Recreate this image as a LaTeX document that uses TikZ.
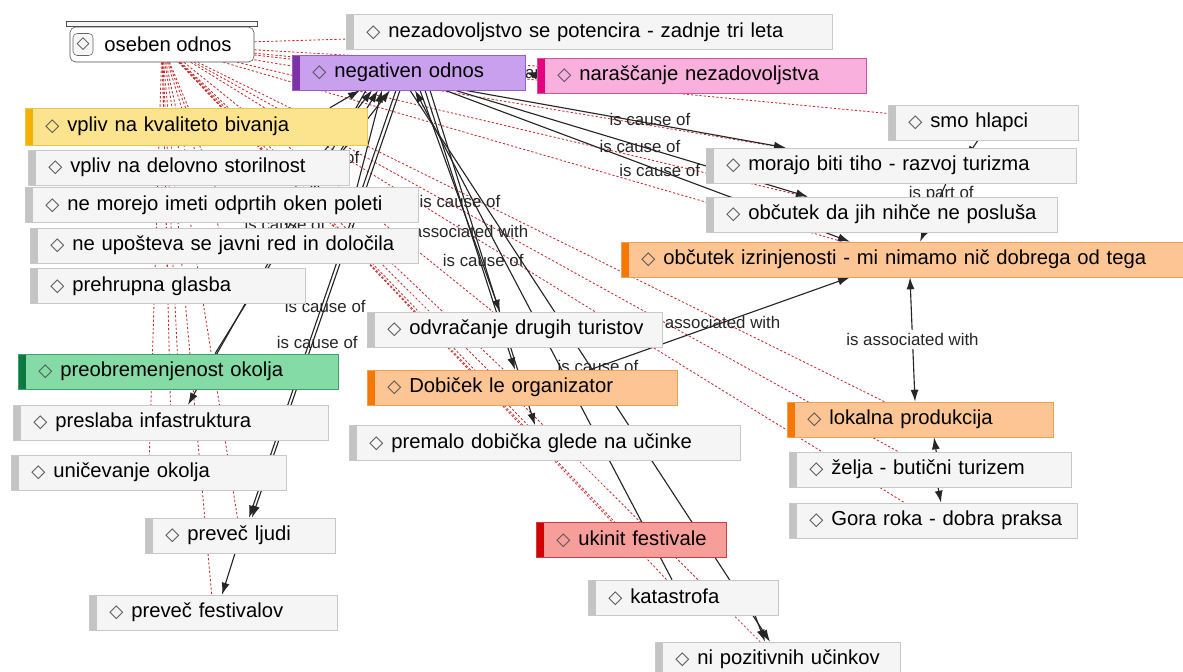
\documentclass[tikz,border=0pt]{standalone}
\usepackage{fontspec}
\setmainfont{Liberation Sans}
\newfontfamily\diamfont{DejaVu Sans}
\usepackage{tikz}
\usetikzlibrary{arrows.meta, calc, backgrounds}
\definecolor{cBoxGray}{RGB}{245,245,245}
\definecolor{cBoxLine}{RGB}{200,200,200}
\definecolor{cBarGray}{RGB}{196,196,196}
\definecolor{cPurpleFill}{RGB}{200,160,238}
\definecolor{cPurpleLine}{RGB}{150,95,200}
\definecolor{cPurpleBar}{RGB}{125,50,165}
\definecolor{cPinkFill}{RGB}{249,176,220}
\definecolor{cPinkLine}{RGB}{205,85,160}
\definecolor{cPinkBar}{RGB}{228,0,126}
\definecolor{cYellowFill}{RGB}{252,228,142}
\definecolor{cYellowLine}{RGB}{230,200,80}
\definecolor{cYellowBar}{RGB}{243,178,0}
\definecolor{cOrangeFill}{RGB}{253,196,148}
\definecolor{cOrangeLine}{RGB}{232,160,96}
\definecolor{cOrangeBar}{RGB}{245,121,0}
\definecolor{cGreenFill}{RGB}{133,219,166}
\definecolor{cGreenLine}{RGB}{64,160,112}
\definecolor{cGreenBar}{RGB}{11,122,64}
\definecolor{cRedFill}{RGB}{247,158,154}
\definecolor{cRedLine}{RGB}{200,64,64}
\definecolor{cRedBar}{RGB}{210,0,0}
\definecolor{cLink}{RGB}{200,45,45}
\definecolor{cDiamond}{RGB}{80,80,80}
\newcommand{\codetxt}[1]{\mbox{{\diamfont\fontsize{13}{13}\selectfont\color{cDiamond}◇}\hspace{0.2cm}#1}}
\tikzset{
	code/.style n args={3}{rectangle, anchor=west, minimum height=0.875cm, inner xsep=0.5cm, inner ysep=0pt, align=left, fill=#1, draw=#2, font=\fontsize{14.4}{17}\selectfont, path picture={\fill[#3] (path picture bounding box.south west) rectangle ([xshift=0.19cm]path picture bounding box.north west);}},
	graycode/.style   ={code={cBoxGray}{cBoxLine}{cBarGray}},
	purplecode/.style ={code={cPurpleFill}{cPurpleLine}{cPurpleBar}},
	pinkcode/.style   ={code={cPinkFill}{cPinkLine}{cPinkBar}},
	yellowcode/.style ={code={cYellowFill}{cYellowLine}{cYellowBar}},
	orangecode/.style ={code={cOrangeFill}{cOrangeLine}{cOrangeBar}},
	greencode/.style  ={code={cGreenFill}{cGreenLine}{cGreenBar}},
	redcode/.style    ={code={cRedFill}{cRedLine}{cRedBar}},
	memo/.style       ={rectangle, rounded corners=4pt, draw=black!70, fill=white, minimum width=4.6cm, minimum height=0.875cm, font=\fontsize{14.4}{17}\selectfont},
	cause/.style      ={-{Latex[length=3mm,width=2mm]}, line width=0.8pt, black!85},
	assoc/.style      ={arrows={Latex[length=3mm,width=2mm]-Latex[length=3mm,width=2mm]}, line width=0.8pt, black!85},
	lbl/.style        ={font=\fontsize{12}{12}\selectfont, inner sep=1pt, text=black!85},
	link/.style       ={cLink, line width=0.6pt, dash pattern=on 1.6pt off 1.4pt},
}
\begin{document}
\begin{tikzpicture}[x=0.025cm, y=-0.025cm]
	\useasboundingbox (0,0) rectangle (1183,671);
	\clip (0,0) rectangle (1183,671);
	% memo
	\node[memo] (oseben) at (162,44.5) {\hspace*{0.3cm}oseben odnos};
	\draw[draw=black!70, fill=black!4, line width=0.6pt] ($(oseben.north west)+(-3,-5)$) rectangle ($(oseben.north east)+(3,0)$);
	\node[draw=black!60, fill=black!3, rounded corners=3pt, minimum width=0.5cm, minimum height=0.55cm, inner sep=0pt] (osebenicon) at (83,44.5) {\diamfont\fontsize{12}{12}\selectfont\color{cDiamond}◇};
	% top row
	\node[graycode, text width=11.15cm] (nezad) at (346,32) {\codetxt{nezadovoljstvo se potencira - zadnje tri leta}};
	\node[purplecode, text width=4.825cm] (neg) at (292,72.5) {\codetxt{negativen odnos}};
	\node[pinkcode, text width=7.225cm] (narasc) at (537,75.5) {\codetxt{naraščanje nezadovoljstva}};
	\node[graycode, text width=3.75cm] (hlapci) at (888,122.5) {\codetxt{smo hlapci}};
	% left column
	\node[yellowcode, text width=7.55cm, minimum height=0.925cm] (kval) at (25,126.5) {\codetxt{vpliv na kvaliteto bivanja}};
	\node[graycode, text width=7.025cm] (delovno) at (28,167.5) {\codetxt{vpliv na delovno storilnost}};
	\node[graycode, text width=8.825cm] (morejo) at (25,205) {\codetxt{ne morejo imeti odprtih oken poleti}};
	\node[graycode, text width=8.7cm] (upost) at (30,245.5) {\codetxt{ne upošteva se javni red in določila}};
	\node[graycode, text width=5.875cm] (prehr) at (30,286) {\codetxt{prehrupna glasba}};
	\node[greencode, text width=7cm] (preob) at (18,371.5) {\codetxt{preobremenjenost okolja}};
	\node[graycode, text width=6.875cm] (preslaba) at (13,422.5) {\codetxt{preslaba infastruktura}};
	\node[graycode, text width=5.875cm] (unic) at (11,472.5) {\codetxt{uničevanje okolja}};
	\node[graycode, text width=3.75cm] (ljudi) at (145,535.5) {\codetxt{preveč ljudi}};
	\node[graycode, text width=5.2cm] (festivalov) at (89,612.5) {\codetxt{preveč festivalov}};
	% right block
	\node[graycode, text width=8.25cm] (tiho) at (706,165.5) {\codetxt{morajo biti tiho - razvoj turizma}};
	\node[graycode, text width=7.775cm] (poslusa) at (706,214.5) {\codetxt{občutek da jih nihče ne posluša}};
	\node[orangecode, text width=13.125cm] (izrinj) at (621,259.5) {\codetxt{občutek izrinjenosti - mi nimamo nič dobrega od tega}};
	\node[orangecode, text width=5.65cm] (lokalna) at (787,419.5) {\codetxt{lokalna produkcija}};
	\node[graycode, text width=6.05cm] (zelja) at (789,469.5) {\codetxt{želja - butični turizem}};
	\node[graycode, text width=6.2cm] (gora) at (789,520.5) {\codetxt{Gora roka - dobra praksa}};
	% middle
	\node[graycode, text width=6.375cm] (odvr) at (367,329.5) {\codetxt{odvračanje drugih turistov}};
	\node[orangecode, text width=6.75cm] (dobicek) at (367,387.5) {\codetxt{Dobiček le organizator}};
	\node[graycode, text width=8.775cm] (premalo) at (349,443) {\codetxt{premalo dobička glede na učinke}};
	\node[redcode, text width=3.75cm] (ukinit) at (536,539.5) {\codetxt{ukinit festivale}};
	\node[graycode, text width=3.75cm] (katastr) at (588,597.5) {\codetxt{katastrofa}};
	\node[graycode, text width=5.125cm] (nipoz) at (655,659.5) {\codetxt{ni pozitivnih učinkov}};
	\begin{scope}[on background layer]
		\fill[white] (0,0) rectangle (1183,671);
		% memo links
		\foreach \n in {nezad,neg,narasc,hlapci,kval,delovno,morejo,upost,prehr,preob,preslaba,unic,ljudi,festivalov,tiho,poslusa,izrinj,lokalna,zelja,gora,odvr,dobicek,premalo,ukinit,katastr,nipoz}
			\draw[link] (oseben) -- (\n);
		% relations into negativen odnos
		\draw[cause] ($(kval.north west)+(305,0)$) -- ($(neg.south west)+(68,0)$);
		\draw[cause] ($(delovno.north west)+(291,8)$) -- node[lbl,pos=0]{is cause of} ($(neg.south west)+(80,0)$);
		\draw[cause] ($(morejo.north west)+(332,0)$) -- ($(neg.south west)+(90,0)$);
		\draw[cause] ($(upost.north west)+(255,-3)$) -- node[lbl,pos=0]{is cause of} ($(neg.south west)+(98,0)$);
		\draw[cause] ($(preob.north west)+(197,0)$) -- ($(neg.south west)+(86,0)$);
		\draw[cause] ($(katastr.north west)+(84,0)$) -- ($(neg.south west)+(123,0)$);
		\draw[cause] (narasc.west) -- node[lbl]{is part of} (neg.east);
		% relations out of negativen odnos
		\draw[cause] ($(neg.south west)+(74,0)$) -- ($(preslaba.north west)+(175,0)$);
		\draw[cause] ($(neg.south west)+(108,0)$) -- node[lbl,pos=0.505]{is cause of} ($(ljudi.north west)+(107,0)$);
		\draw[cause] ($(neg.south west)+(104,0)$) -- node[lbl,pos=0.59,xshift=0.2cm]{is cause of} ($(ljudi.north west)+(104,0)$);
		\draw[cause] ($(ljudi.south west)+(90,0)$) -- ($(festivalov.north west)+(133,0)$);
		\draw[cause] ($(neg.south west)+(173,0)$) -- node[lbl,pos=0.576,yshift=0.1cm]{is cause of} ($(tiho.north west)+(80,0)$);
		\draw[cause] ($(neg.south west)+(163,0)$) -- node[lbl,pos=0.524]{is cause of} ($(poslusa.north west)+(102,0)$);
		\draw[cause] ($(neg.south west)+(153,0)$) -- node[lbl,pos=0.53]{is cause of} ($(izrinj.north west)+(229,0)$);
		\draw[cause] ($(neg.south west)+(128,0)$) -- node[lbl,pos=0.5]{is cause of} ($(odvr.north west)+(133,0)$);
		\draw[cause] ($(neg.south west)+(133,0)$) -- node[lbl,pos=0.507]{associated with} ($(dobicek.north west)+(148,0)$);
		\draw[cause] ($(neg.south west)+(138,0)$) -- node[lbl,pos=0.507]{is cause of} ($(premalo.north west)+(186,0)$);
		\draw[cause] ($(neg.south west)+(118,0)$) -- node[lbl,pos=0.5,xshift=0.2cm]{is cause of} ($(nipoz.north west)+(115,0)$);
		\draw[cause] ($(katastr.south west)+(167,0)$) -- ($(nipoz.north west)+(110,0)$);
		% right side
		\draw[cause] ($(hlapci.south west)+(90,0)$) -- ($(tiho.north west)+(260,10)$);
		\draw[cause] ($(tiho.south west)+(240,0)$) -- node[lbl,pos=0.18]{is part of} ($(izrinj.north west)+(299,0)$);
		\draw[cause] ($(dobicek.north west)+(223,0)$) -- node[lbl,pos=0.51]{associated with} ($(izrinj.south west)+(229,0)$);
		\draw[assoc] ($(izrinj.south west)+(289,0)$) -- node[lbl,fill=white,inner sep=2pt]{is associated with} ($(lokalna.north west)+(128,0)$);
		\draw[cause] ($(zelja.north west)+(148,5)$) -- ($(lokalna.south west)+(147,0)$);
		\draw[cause] ($(zelja.south west)+(149,0)$) -- ($(gora.north west)+(152,0)$);
	\end{scope}
\end{tikzpicture}
\end{document}
